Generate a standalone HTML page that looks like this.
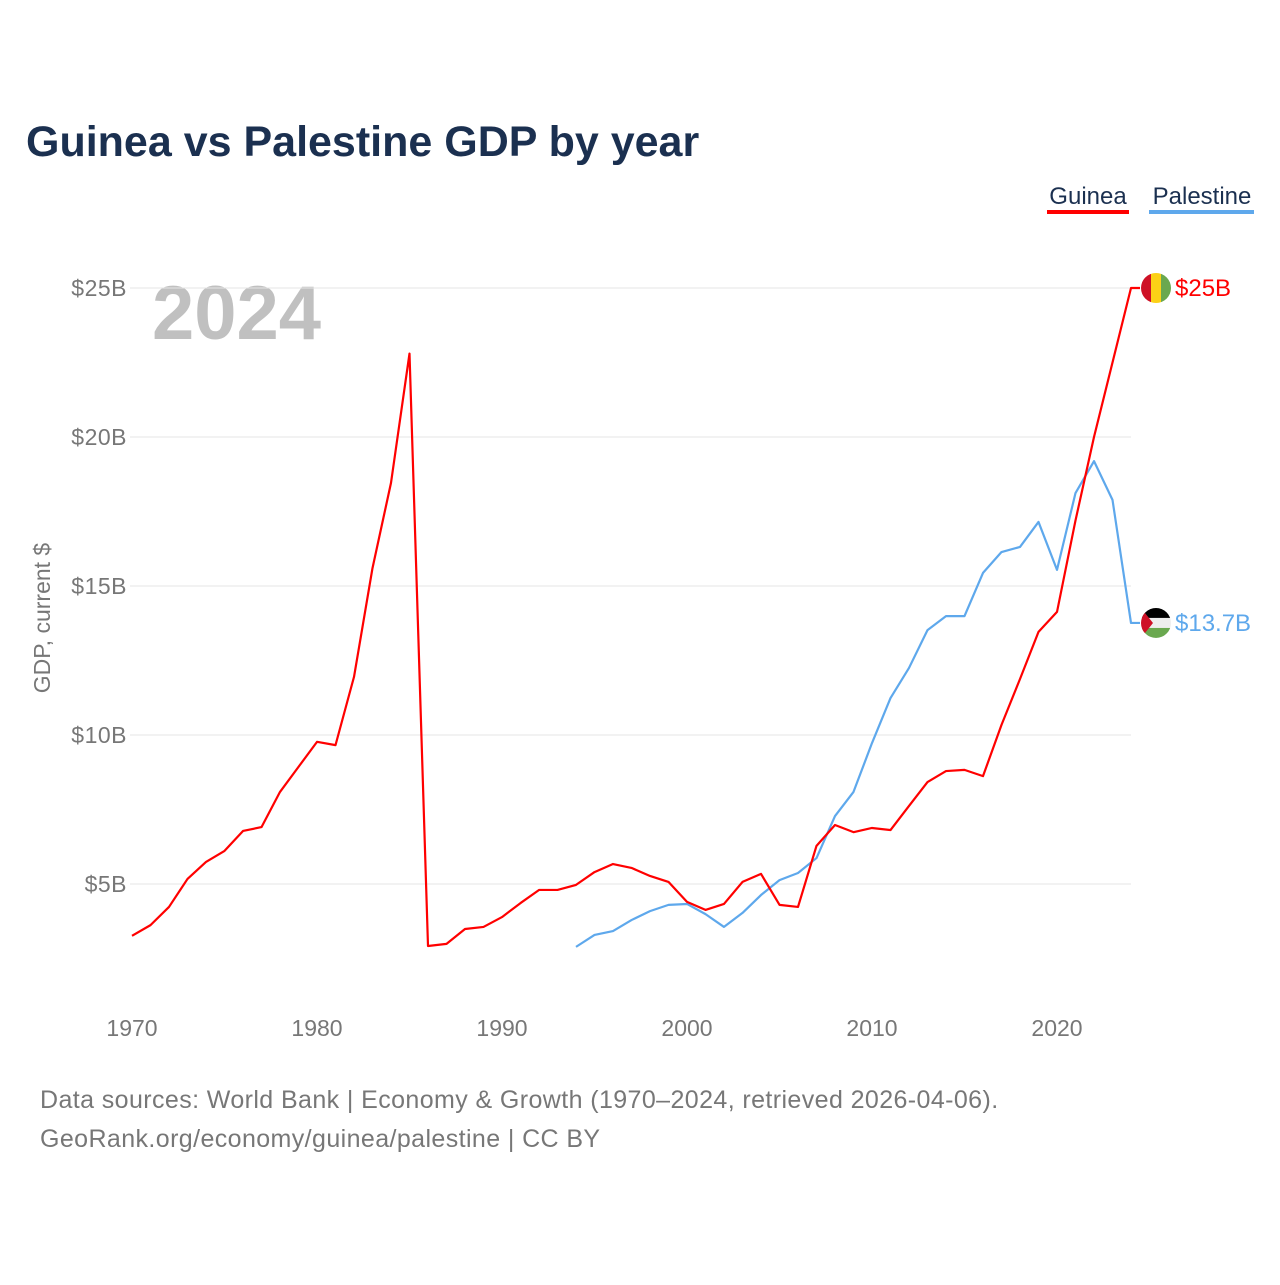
<!DOCTYPE html>
<html><head><meta charset="utf-8"><style>
body{margin:0;background:#fff;font-family:"Liberation Sans",sans-serif}
svg text{font-family:"Liberation Sans",sans-serif}
</style></head><body>
<svg width="1280" height="1280" xmlns="http://www.w3.org/2000/svg">
<text x="26" y="156" font-size="43" font-weight="bold" fill="#1b3050">Guinea vs Palestine GDP by year</text>
<g>
<text x="1088" y="204" font-size="24" fill="#1b3050" text-anchor="middle">Guinea</text>
<rect x="1047" y="210" width="82" height="4" fill="#ff0000"/>
<text x="1202" y="204" font-size="24" fill="#1b3050" text-anchor="middle">Palestine</text>
<rect x="1149" y="210" width="105" height="4" fill="#5ea8ec"/>
</g>
<text x="152" y="339" font-size="76" font-weight="bold" fill="#c0c0c0">2024</text>
<text transform="translate(50,618) rotate(-90)" font-size="23" fill="#777" text-anchor="middle">GDP, current $</text>
<g id="grid"></g><g id="xt"></g><g id="lines"></g><g id="ends"></g>
<text x="40" y="1108" font-size="25" letter-spacing="0.4" fill="#777">Data sources: World Bank | Economy &amp; Growth (1970–2024, retrieved 2026-04-06).</text>
<text x="40" y="1147" font-size="25" letter-spacing="0.4" fill="#777">GeoRank.org/economy/guinea/palestine | CC BY</text>
</svg>
<script>
const years=[];for(let y=1970;y<=2024;y++)years.push(y);
const guinea=[3.26,3.62,4.23,5.17,5.74,6.11,6.78,6.91,8.09,8.93,9.77,9.66,11.95,15.6,18.46,22.8,2.92,2.99,3.49,3.56,3.89,4.36,4.8,4.8,4.97,5.4,5.67,5.54,5.27,5.07,4.4,4.13,4.33,5.07,5.34,4.3,4.23,6.28,6.98,6.74,6.88,6.81,7.62,8.42,8.79,8.83,8.62,10.34,11.88,13.46,14.13,17.2,20.0,22.5,25.0];
const palYears=[];for(let y=1994;y<=2024;y++)palYears.push(y);
const palestine=[2.89,3.29,3.42,3.79,4.09,4.3,4.33,3.99,3.56,4.03,4.63,5.13,5.37,5.87,7.28,8.09,9.73,11.24,12.25,13.52,13.99,13.99,15.44,16.14,16.31,17.15,15.54,18.12,19.19,17.89,13.76];
const yTicks=[5,10,15,20,25];
const yTickLabels=["$5B","$10B","$15B","$20B","$25B"];
const xTicks=[1970,1980,1990,2000,2010,2020];
const NS="http://www.w3.org/2000/svg";
const X=y=>132+(y-1970)*18.5;
const Y=v=>1033-v*29.8;
function mk(t,a,p){const e=document.createElementNS(NS,t);for(const k in a)e.setAttribute(k,a[k]);p.appendChild(e);return e;}
const grid=document.getElementById('grid');
yTicks.forEach((v,i)=>{
 const l=mk('line',{x1:130,x2:1131,y1:Y(v),y2:Y(v),stroke:'#e6e6e6','stroke-width':1},grid);
 
 
 const t=mk('text',{x:127,y:Y(v)+8,'font-size':23,'letter-spacing':0.5,fill:'#777','text-anchor':'end'},grid);
 t.textContent=yTickLabels[i];
 
 
});
const xt=document.getElementById('xt');
xTicks.forEach(y=>{
 const t=mk('text',{x:X(y),y:1036,'font-size':23,fill:'#777','text-anchor':'middle'},xt);
 t.textContent=y;
 
 
});
const lines=document.getElementById('lines');
function line(xs,vs,c,name){
 let d=xs.map((y,i)=>(i?'L':'M')+X(y)+','+Y(vs[i])).join('');
 d+='L'+(X(xs[xs.length-1])+9)+','+Y(vs[vs.length-1]);
 const p=mk('path',{d:d,fill:'none',stroke:c,'stroke-width':2.2,'stroke-linejoin':'round'},lines);
 
 
}
line(palYears,palestine,'#5ea8ec','palestine-line');
line(years,guinea,'#ff0000','guinea-line');
const ends=document.getElementById('ends');
const defs=mk('defs',{},ends);
const cx=1156;
function clip(id,cy){const c=mk('clipPath',{id:id},defs);mk('circle',{cx:cx,cy:cy,r:15},c);}
const gy=Y(guinea[guinea.length-1]),py=Y(palestine[palestine.length-1]);
clip('cg',gy);clip('cp',py);
const gf=mk('g',{'clip-path':'url(#cg)'},ends);


mk('rect',{x:cx-15,y:gy-15,width:10,height:30,fill:'#ce1126'},gf);
mk('rect',{x:cx-5,y:gy-15,width:10,height:30,fill:'#fcd116'},gf);
mk('rect',{x:cx+5,y:gy-15,width:10,height:30,fill:'#6aa84f'},gf);
const pf=mk('g',{'clip-path':'url(#cp)'},ends);


mk('rect',{x:cx-15,y:py-15,width:30,height:10,fill:'#000'},pf);
mk('rect',{x:cx-15,y:py-5,width:30,height:10,fill:'#eee'},pf);
mk('rect',{x:cx-15,y:py+5,width:30,height:10,fill:'#6aa84f'},pf);
mk('polygon',{points:`${cx-15},${py-15} ${cx-3},${py} ${cx-15},${py+15}`,fill:'#ce1126'},pf);
const gl=mk('text',{x:1175,y:gy+8,'font-size':24,fill:'#ff0000'},ends);
gl.textContent='$'+Math.round(guinea[guinea.length-1])+'B';


const pl=mk('text',{x:1175,y:py+8,'font-size':24,fill:'#5ea8ec'},ends);
pl.textContent='$'+(Math.floor(palestine[palestine.length-1]*10)/10)+'B';


</script>
</body></html>
